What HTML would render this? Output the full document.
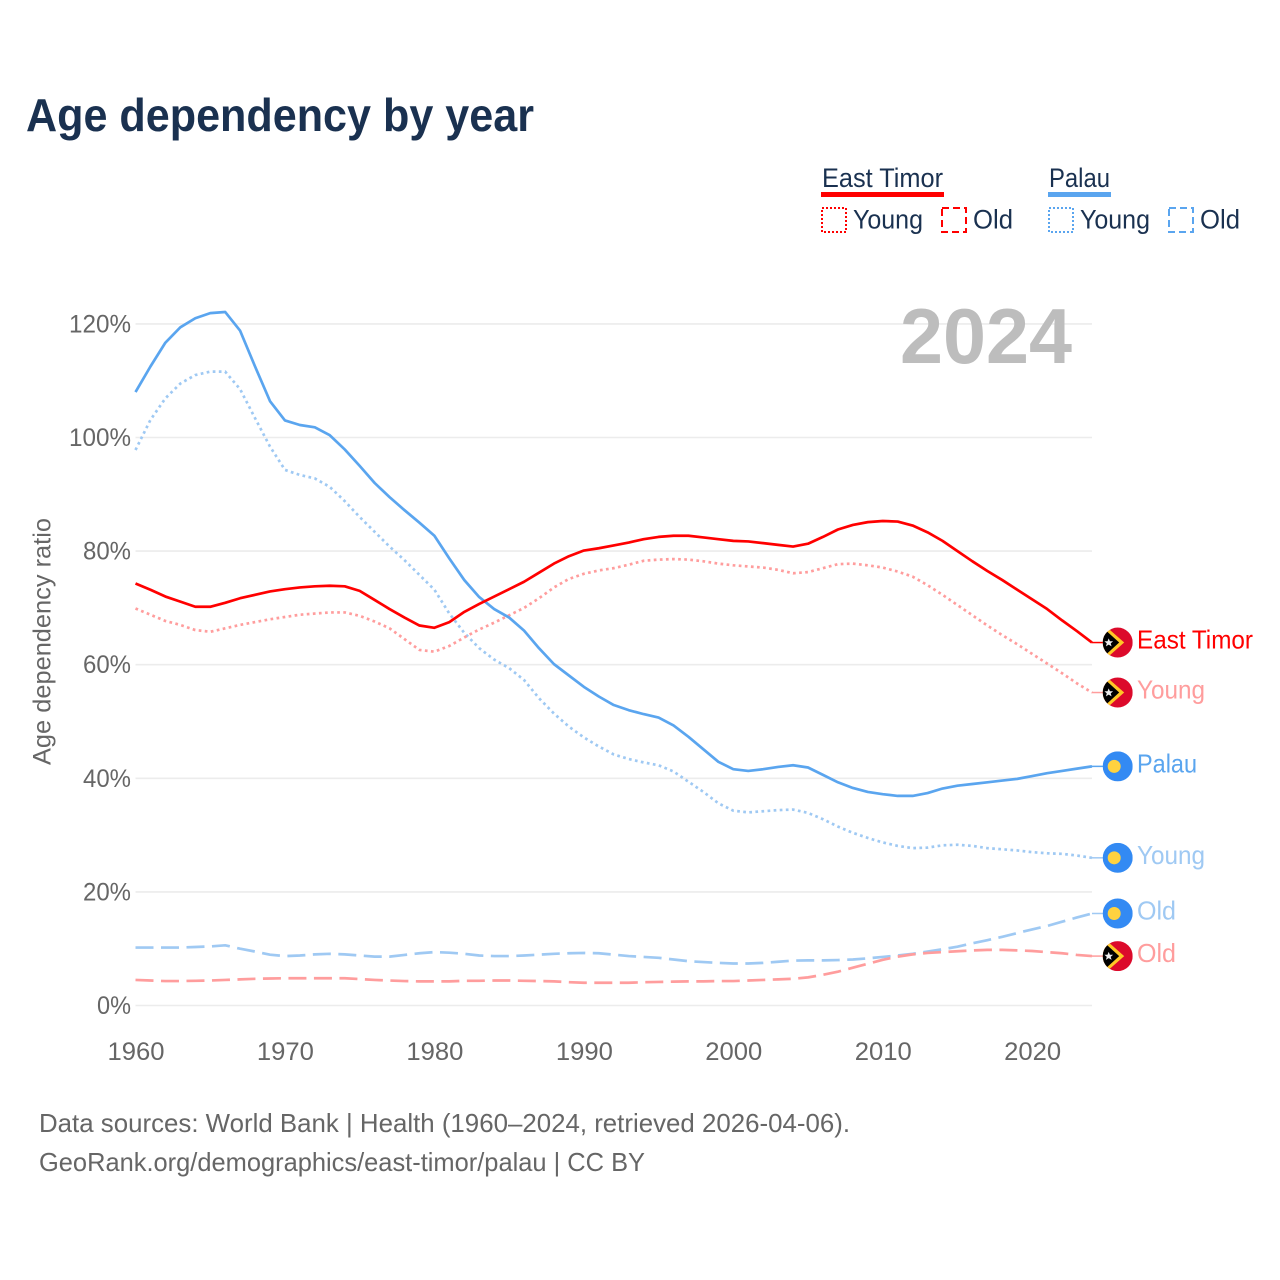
<!DOCTYPE html>
<html lang="en">
<head>
<meta charset="utf-8">
<title>Age dependency by year</title>
<style>
html,body{margin:0;padding:0;background:#fff;}
svg{display:block;font-family:"Liberation Sans",sans-serif;}
</style>
</head>
<body>
<svg id="chart" xmlns="http://www.w3.org/2000/svg" width="1280" height="1280" viewBox="0 0 1280 1280">
  <rect x="0" y="0" width="1280" height="1280" fill="#fff"/>
  <text x="26" y="131" font-size="46" font-weight="700" fill="#1a3150" textLength="508" lengthAdjust="spacingAndGlyphs">Age dependency by year</text>

  <g fill="#1a3150" font-size="27">
    <text x="822" y="187" textLength="121" lengthAdjust="spacingAndGlyphs">East Timor</text>
    <rect x="821" y="192" width="123" height="5" fill="#ff0000"/>
    <rect x="822" y="208" width="24" height="24" fill="none" stroke="#ff0000" stroke-width="2" stroke-dasharray="2 2"/>
    <text x="853" y="228.5" textLength="70" lengthAdjust="spacingAndGlyphs">Young</text>
    <rect x="942" y="208" width="24" height="24" fill="none" stroke="#ff0000" stroke-width="2" stroke-dasharray="7 4"/>
    <text x="973" y="228.5" textLength="40" lengthAdjust="spacingAndGlyphs">Old</text>
    <text x="1049" y="187" textLength="61" lengthAdjust="spacingAndGlyphs">Palau</text>
    <rect x="1048" y="192" width="63" height="5" fill="#5aa5ef"/>
    <rect x="1049" y="208" width="24" height="24" fill="none" stroke="#5aa5ef" stroke-width="2" stroke-dasharray="2 2"/>
    <text x="1080" y="228.5" textLength="70" lengthAdjust="spacingAndGlyphs">Young</text>
    <rect x="1169" y="208" width="24" height="24" fill="none" stroke="#5aa5ef" stroke-width="2" stroke-dasharray="7 4"/>
    <text x="1200" y="228.5" textLength="40" lengthAdjust="spacingAndGlyphs">Old</text>
  </g>

  <g id="grid"></g>
  <g id="yticks"></g>
  <g id="xticks"></g>

  <text x="900" y="363" font-size="78" font-weight="700" fill="#bdbdbd" textLength="172" lengthAdjust="spacingAndGlyphs">2024</text>
  <text transform="translate(50.5,765) rotate(-90)" x="0" y="0" font-size="25" fill="#666" textLength="247" lengthAdjust="spacingAndGlyphs">Age dependency ratio</text>

  <g id="series"></g>
  <g id="endlabels"></g>

  <text x="39" y="1132" font-size="26" fill="#666" textLength="811" lengthAdjust="spacingAndGlyphs">Data sources: World Bank | Health (1960–2024, retrieved 2026-04-06).</text>
  <text x="39" y="1171" font-size="26" fill="#666" textLength="606" lengthAdjust="spacingAndGlyphs">GeoRank.org/demographics/east-timor/palau | CC BY</text>
</svg>
<script>
const years = [1960,1961,1962,1963,1964,1965,1966,1967,1968,1969,1970,1971,1972,1973,1974,1975,1976,1977,1978,1979,1980,1981,1982,1983,1984,1985,1986,1987,1988,1989,1990,1991,1992,1993,1994,1995,1996,1997,1998,1999,2000,2001,2002,2003,2004,2005,2006,2007,2008,2009,2010,2011,2012,2013,2014,2015,2016,2017,2018,2019,2020,2021,2022,2023,2024];
const palauTotal = [108,112.5,116.7,119.4,121,121.9,122.1,118.8,112.5,106.4,103,102.2,101.8,100.4,97.9,95,92,89.5,87.2,85,82.7,78.7,74.9,71.9,69.8,68.3,66,62.9,60.1,58.1,56.1,54.4,52.9,52,51.3,50.7,49.3,47.3,45.1,42.9,41.6,41.3,41.6,42,42.3,41.9,40.6,39.3,38.3,37.6,37.2,36.9,36.9,37.4,38.2,38.7,39,39.3,39.6,39.9,40.4,40.9,41.3,41.7,42.1];
const palauYoung = [97.8,103.1,106.9,109.5,111,111.6,111.6,108.5,103.4,98.4,94.3,93.4,92.8,91.3,88.8,86,83.4,80.8,78.4,75.8,73.2,69,65.6,62.9,60.9,59.4,57.3,54.1,51.4,49.1,47.2,45.6,44.2,43.4,42.8,42.3,41.2,39.4,37.6,35.6,34.3,34,34.2,34.4,34.5,33.9,32.8,31.5,30.4,29.5,28.7,28.1,27.7,27.8,28.2,28.3,28.1,27.7,27.5,27.3,27,26.8,26.7,26.4,26];
const palauOld = [10.2,10.2,10.2,10.2,10.3,10.4,10.6,10,9.5,8.95,8.7,8.8,9,9.1,9,8.8,8.6,8.6,8.9,9.2,9.4,9.3,9.1,8.8,8.7,8.7,8.8,8.95,9.1,9.2,9.25,9.2,8.95,8.7,8.55,8.4,8.1,7.8,7.65,7.5,7.4,7.4,7.5,7.7,7.9,7.95,7.95,8,8.1,8.3,8.55,8.8,9.1,9.5,9.9,10.35,10.95,11.5,12.1,12.75,13.4,14,14.75,15.5,16.2];
const eastTimorTotal = [74.3,73.2,72,71.1,70.2,70.2,70.9,71.7,72.3,72.9,73.3,73.6,73.8,73.9,73.8,73,71.4,69.8,68.3,66.9,66.5,67.5,69.3,70.7,72,73.3,74.6,76.2,77.8,79.1,80.1,80.5,81,81.5,82.1,82.5,82.7,82.7,82.4,82.1,81.8,81.7,81.4,81.1,80.8,81.3,82.5,83.8,84.6,85.1,85.3,85.2,84.5,83.3,81.8,80,78.2,76.5,74.9,73.2,71.5,69.8,67.8,65.9,63.9];
const eastTimorYoung = [69.9,68.8,67.7,67,66.1,65.8,66.4,67,67.5,68,68.4,68.8,69,69.2,69.2,68.6,67.6,66.4,64.5,62.6,62.3,63.3,64.8,66.2,67.4,68.7,70,71.7,73.6,75.1,76,76.6,77,77.6,78.3,78.5,78.6,78.5,78.2,77.8,77.5,77.3,77.1,76.7,76.1,76.3,77,77.7,77.8,77.5,77.1,76.4,75.5,74,72.3,70.5,68.7,66.9,65.2,63.6,61.9,60.2,58.5,56.7,55.1];
const eastTimorOld = [4.5,4.4,4.3,4.3,4.35,4.4,4.5,4.6,4.7,4.75,4.8,4.8,4.8,4.8,4.8,4.65,4.5,4.4,4.3,4.25,4.25,4.25,4.35,4.35,4.4,4.4,4.35,4.3,4.25,4.1,4,4,4,4,4.1,4.15,4.2,4.25,4.25,4.3,4.3,4.4,4.5,4.6,4.7,4.95,5.4,5.95,6.65,7.35,8.05,8.6,9,9.25,9.4,9.55,9.7,9.8,9.8,9.7,9.6,9.4,9.2,8.9,8.7];
const yTickValues = [0,20,40,60,80,100,120];
const yTickLabels = ["0%","20%","40%","60%","80%","100%","120%"];
const xTickValues = [1960,1970,1980,1990,2000,2010,2020];
const xTickLabels = ["1960","1970","1980","1990","2000","2010","2020"];

const NS = "http://www.w3.org/2000/svg";
const xScale = function (year) { return 135.5 + (year - 1960) * 14.945; };
const yScale = function (value) { return 1005.5 - value * 5.68; };
const RIGHT_EDGE = xScale(2024);

function make(tag, parent) {
  const el = document.createElementNS(NS, tag);
  parent.appendChild(el);
  return el;
}

const gridGroup = document.getElementById("grid");
const yTickGroup = document.getElementById("yticks");
yTickValues.forEach(function (value, i) {
  const line = make("line", gridGroup);
  
  
  line.setAttribute("x1", xScale(1960));
  line.setAttribute("x2", RIGHT_EDGE);
  line.setAttribute("y1", yScale(value));
  line.setAttribute("y2", yScale(value));
  line.setAttribute("stroke", "#ececec");
  line.setAttribute("stroke-width", "1.6");
  const label = make("text", yTickGroup);
  
  
  const w = 14 * yTickLabels[i].length + 6;
  label.setAttribute("x", 131 - w);
  label.setAttribute("y", yScale(value) + 8.5);
  label.setAttribute("font-size", "25");
  label.setAttribute("fill", "#666");
  label.setAttribute("textLength", w);
  label.setAttribute("lengthAdjust", "spacingAndGlyphs");
  label.textContent = yTickLabels[i];
});

const xTickGroup = document.getElementById("xticks");
xTickValues.forEach(function (year, i) {
  const label = make("text", xTickGroup);
  
  
  label.setAttribute("x", xScale(year) - 28);
  label.setAttribute("y", 1060);
  label.setAttribute("font-size", "25");
  label.setAttribute("fill", "#666");
  label.setAttribute("textLength", 57);
  label.setAttribute("lengthAdjust", "spacingAndGlyphs");
  label.textContent = xTickLabels[i];
});

function drawLine(values, color, dash, name) {
  const group = document.getElementById("series");
  const pts = values.map(function (v, i) { return xScale(years[i]).toFixed(2) + "," + yScale(v).toFixed(2); });
  const path = make("polyline", group);
  
  
  path.setAttribute("points", pts.join(" "));
  path.setAttribute("fill", "none");
  path.setAttribute("stroke", color);
  path.setAttribute("stroke-width", "2.7");
  path.setAttribute("stroke-linejoin", "round");
  if (dash) path.setAttribute("stroke-dasharray", dash);
  const stub = make("line", group);
  
  
  const lastY = yScale(values[values.length - 1]);
  stub.setAttribute("x1", RIGHT_EDGE);
  stub.setAttribute("x2", 1104);
  stub.setAttribute("y1", lastY);
  stub.setAttribute("y2", lastY);
  stub.setAttribute("stroke", color);
  stub.setAttribute("stroke-width", "1.5");
}

const DOT = "2.7 3.4";
const DASH = "18 7.5";
drawLine(palauOld, "#9fc9f3", DASH, "line-palau-old");
drawLine(eastTimorOld, "#ff9d9d", DASH, "line-east-timor-old");
drawLine(palauYoung, "#9fc9f3", DOT, "line-palau-young");
drawLine(eastTimorYoung, "#ff9d9d", DOT, "line-east-timor-young");
drawLine(palauTotal, "#5aa5ef", null, "line-palau-total");
drawLine(eastTimorTotal, "#ff0000", null, "line-east-timor-total");

const defs = make("defs", document.getElementById("chart"));
const clip = make("clipPath", defs);
clip.setAttribute("id", "flag-clip");
const clipCircle = make("circle", clip);
clipCircle.setAttribute("cx", 0);
clipCircle.setAttribute("cy", 0);
clipCircle.setAttribute("r", 15);

function shape(parent, tag, attrs) {
  const el = make(tag, parent);
  Object.keys(attrs).forEach(function (k) { el.setAttribute(k, attrs[k]); });
  return el;
}

function drawEndLabel(value, text, color, country, width, name) {
  const group = document.getElementById("endlabels");
  const cy = yScale(value);
  const flag = make("g", group);
  
  
  flag.setAttribute("transform", "translate(1117.7," + cy + ")");
  flag.setAttribute("clip-path", "url(#flag-clip)");
  if (country === "tl") {
    shape(flag, "rect", { x: -15, y: -15, width: 30, height: 30, fill: "#dc0a2b" });
    shape(flag, "polygon", { points: "-15,-19 6.5,0 -15,19", fill: "#ffc726" });
    shape(flag, "polygon", { points: "-15,-15 1.5,0 -15,15", fill: "#000" });
    shape(flag, "polygon", { points: "-9,-4.2 -7.8,-1.3 -4.6,-1.3 -7,0.8 -6.1,3.8 -9,2.1 -11.8,3.8 -10.9,0.8 -13.3,-1.3 -10.2,-1.3", fill: "#eee" });
  } else {
    shape(flag, "rect", { x: -15, y: -15, width: 30, height: 30, fill: "#338af3" });
    shape(flag, "circle", { cx: -3.5, cy: 0, r: 6.5, fill: "#ffd23f" });
  }
  const label = make("text", group);
  
  
  label.setAttribute("x", 1137);
  label.setAttribute("y", cy + 6);
  label.setAttribute("font-size", "26");
  label.setAttribute("fill", color);
  label.setAttribute("textLength", width);
  label.setAttribute("lengthAdjust", "spacingAndGlyphs");
  label.textContent = text;
}

drawEndLabel(eastTimorTotal[eastTimorTotal.length - 1], "East Timor", "#ff0000", "tl", 116, "end-east-timor-total");
drawEndLabel(eastTimorYoung[eastTimorYoung.length - 1], "Young", "#ff9d9d", "tl", 68, "end-east-timor-young");
drawEndLabel(palauTotal[palauTotal.length - 1], "Palau", "#5aa5ef", "pw", 60, "end-palau-total");
drawEndLabel(palauYoung[palauYoung.length - 1], "Young", "#9fc9f3", "pw", 68, "end-palau-young");
drawEndLabel(palauOld[palauOld.length - 1], "Old", "#9fc9f3", "pw", 39, "end-palau-old");
drawEndLabel(eastTimorOld[eastTimorOld.length - 1], "Old", "#ff9d9d", "tl", 39, "end-east-timor-old");
</script>
</body>
</html>
